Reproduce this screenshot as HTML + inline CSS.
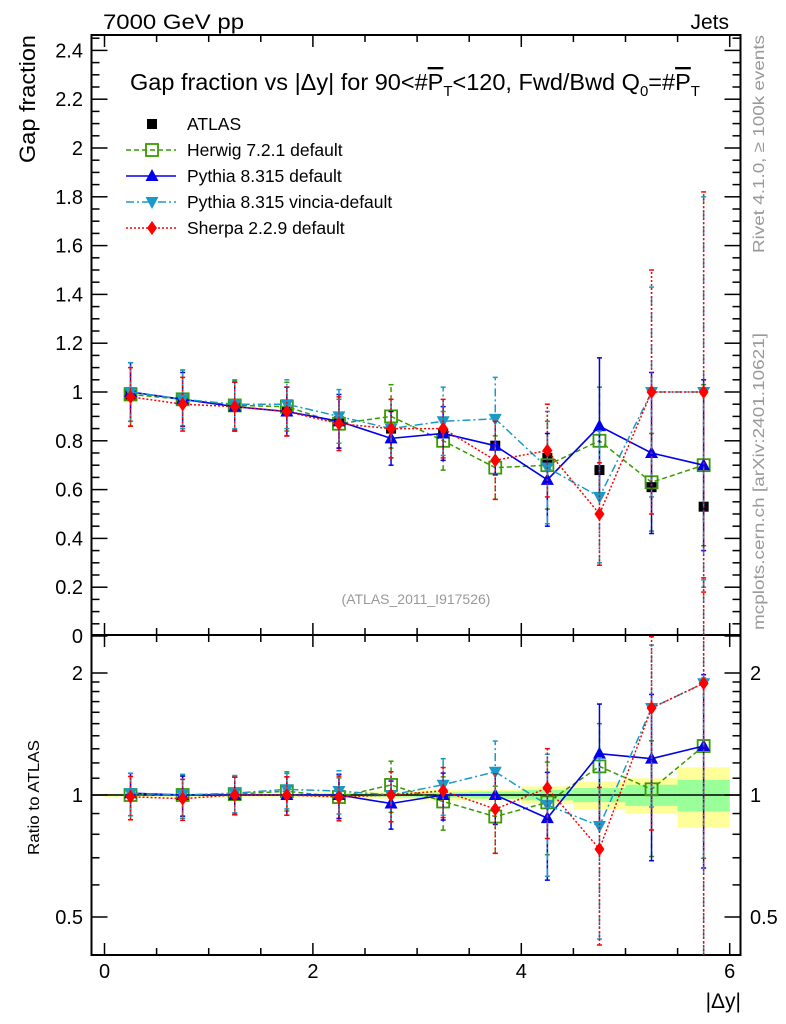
<!DOCTYPE html>
<html><head><meta charset="utf-8"><style>
html,body{margin:0;padding:0;background:#fff;}
svg{display:block;font-family:"Liberation Sans",sans-serif;}
</style></head><body>
<svg id="chart" width="786" height="1024" viewBox="0 0 786 1024"></svg>
<script>
const binCenters=[0.25,0.75,1.25,1.75,2.25,2.75,3.25,3.75,4.25,4.75,5.25,5.75];
const atlasVals=[0.99,0.97,0.94,0.92,0.88,0.85,0.83,0.78,0.73,0.68,0.61,0.53];
const atlasErr=[0.01,0.01,0.01,0.01,0.01,0.015,0.02,0.02,0.03,0.04,0.05,0.07];
const atlasStatRel=[0.005,0.005,0.005,0.005,0.008,0.01,0.015,0.02,0.03,0.04,0.06,0.09];
const atlasTotRel=[0.01,0.01,0.01,0.01,0.015,0.02,0.03,0.03,0.05,0.08,0.1,0.17];
const herwigVals=[0.99,0.97,0.945,0.94,0.87,0.90,0.80,0.69,0.70,0.80,0.63,0.70];
const herwigErr=[0.13,0.12,0.1,0.1,0.1,0.13,0.12,0.13,0.18,0.22,0.2,0.33];
const pythiaVals=[1.0,0.97,0.94,0.92,0.88,0.81,0.83,0.78,0.64,0.86,0.75,0.70];
const pythiaErr=[0.12,0.11,0.1,0.1,0.11,0.11,0.11,0.12,0.19,0.28,0.33,0.35];
const vinciaVals=[1.0,0.97,0.95,0.95,0.90,0.85,0.88,0.89,0.69,0.57,1.0,1.0];
const vinciaErr=[0.12,0.12,0.1,0.1,0.11,0.12,0.14,0.17,0.23,0.27,0.43,0.8];
const sherpaVals=[0.98,0.95,0.94,0.92,0.87,0.85,0.85,0.72,0.76,0.50,1.0,1.0];
const sherpaErr=[0.12,0.11,0.1,0.1,0.11,0.12,0.12,0.16,0.19,0.21,0.5,0.82];
const mainTicks=[0,0.2,0.4,0.6,0.8,1,1.2,1.4,1.6,1.8,2,2.2,2.4];
const ratioTicks=[0.5,1,2];
const xTickLabels=[0,2,4,6];

const NS="http://www.w3.org/2000/svg";
const svg=document.getElementById('chart');
function mk(tag,attrs,parent){const e=document.createElementNS(NS,tag);for(const k in attrs)e.setAttribute(k,attrs[k]);(parent||svg).appendChild(e);return e;}
const L=91.5,R=740.5,T1=35,B1=635,B2=955;
const X=v=>104.5+v*104.2;
const Y=v=>636-v*244;
const YR=r=>795-Math.log2(r)*122;
const YRc=r=>Math.max(T1+0.5,Math.min(B2,YR(r)));
const YC=v=>Math.max(T1,Math.min(B1,Y(v)));

for(let i=0;i<binCenters.length;i++){
  const x0=X(binCenters[i]-0.25),x1=X(binCenters[i]+0.25);
  const b=mk('rect',{x:x0,y:YR(1+atlasTotRel[i]),width:x1-x0,height:YR(1-atlasTotRel[i])-YR(1+atlasTotRel[i]),fill:'#ffff99'});
  
  
  const g=mk('rect',{x:x0,y:YR(1+atlasStatRel[i]),width:x1-x0,height:YR(1-atlasStatRel[i])-YR(1+atlasStatRel[i]),fill:'#99ff99'});
  
  
}
mk('line',{x1:L,x2:R,y1:YR(1),y2:YR(1),stroke:'#000','stroke-width':1.5});

mk('rect',{x:L,y:T1,width:R-L,height:B1-T1,fill:'none',stroke:'#000','stroke-width':2});
mk('rect',{x:L,y:B1,width:R-L,height:B2-B1,fill:'none',stroke:'#000','stroke-width':2});

for(let v=0;v<=6.001;v+=0.5){
  const maj=Math.abs(v-Math.round(v/2)*2)<1e-6;
  const len=maj?12:7;
  [[T1,1],[B1,-1],[B1,1],[B2,-1]].forEach(([y,d])=>mk('line',{x1:X(v),x2:X(v),y1:y,y2:y+d*len,stroke:'#000','stroke-width':1.5}));
}
xTickLabels.forEach(v=>{const t=mk('text',{x:X(v),y:978,'font-size':20,'text-anchor':'middle'});t.textContent=v;

});

for(let v=0;v<=2.46;v+=0.05){
  const maj=Math.abs(v*5-Math.round(v*5))<1e-6;const len=maj?16:8;
  mk('line',{x1:L,x2:L+len,y1:Y(v),y2:Y(v),stroke:'#000','stroke-width':1.5});
  mk('line',{x1:R,x2:R-len,y1:Y(v),y2:Y(v),stroke:'#000','stroke-width':1.5});
}
mainTicks.forEach(v=>{const t=mk('text',{x:83,y:Y(v)+7,'font-size':20,'text-anchor':'end'});t.textContent=String(+v.toFixed(1));

});

const rMinor=[0.5,0.6,0.7,0.8,0.9,1,1.1,1.2,1.3,1.4,1.5,1.6,1.7,1.8,1.9,2];
rMinor.forEach(r=>{const maj=ratioTicks.includes(r);const len=maj?16:8;
  mk('line',{x1:L,x2:L+len,y1:YR(r),y2:YR(r),stroke:'#000','stroke-width':1.5});
  mk('line',{x1:R,x2:R-len,y1:YR(r),y2:YR(r),stroke:'#000','stroke-width':1.5});});
ratioTicks.forEach(r=>{
  const t=mk('text',{x:83,y:YR(r)+7,'font-size':20,'text-anchor':'end'});t.textContent=r;
  
  
  const t2=mk('text',{x:750,y:YR(r)+7,'font-size':20,'text-anchor':'start'});t2.textContent=r;
  
  
});

function marker(kind,x,y,color,parent){
  if(kind==='sq') return mk('rect',{x:x-5,y:y-5,width:10,height:10,fill:'#000'},parent);
  if(kind==='osq') return mk('rect',{x:x-6,y:y-6,width:12,height:12,fill:'none',stroke:color,'stroke-width':1.8},parent);
  if(kind==='up') return mk('polygon',{points:`${x},${y-7} ${x-6.5},${y+5} ${x+6.5},${y+5}`,fill:color},parent);
  if(kind==='dn') return mk('polygon',{points:`${x},${y+7} ${x-6.5},${y-5} ${x+6.5},${y-5}`,fill:color},parent);
  if(kind==='dia') return mk('polygon',{points:`${x},${y-7} ${x-5},${y} ${x},${y+7} ${x+5},${y}`,fill:color},parent);
}
const series=[
 {name:'herwig',vals:herwigVals,err:herwigErr,color:'#3a9a00',dash:'5,3',kind:'osq',w:1.5},
 {name:'pythia',vals:pythiaVals,err:pythiaErr,color:'#0000ee',dash:'',kind:'up',w:1.6},
 {name:'vincia',vals:vinciaVals,err:vinciaErr,color:'#1a9ac8',dash:'8,3,2,3',kind:'dn',w:1.5},
 {name:'sherpa',vals:sherpaVals,err:sherpaErr,color:'#ff0000',dash:'2,2',kind:'dia',w:1.5}
];
function drawSeries(s,ratio){
  const g=mk('g',{});
  
  
  const yf=ratio?YRc:YC;
  const v=s.vals.map((d,i)=>ratio?d/atlasVals[i]:d);
  const e=s.err.map((d,i)=>ratio?d/atlasVals[i]:d);
  const pts=binCenters.map((c,i)=>`${X(c)},${yf(v[i])}`).join(' ');
  mk('polyline',{points:pts,fill:'none',stroke:s.color,'stroke-width':s.w,'stroke-dasharray':s.dash},g);
  binCenters.forEach((c,i)=>{
    const lo=Math.max(v[i]-e[i],0.01),hi=v[i]+e[i];
    mk('line',{x1:X(c),x2:X(c),y1:yf(lo),y2:yf(hi),stroke:s.color,'stroke-width':1.5,'stroke-dasharray':s.dash},g);
    [lo,hi].forEach(q=>{if(yf(q)>T1+1&&yf(q)<(ratio?B2:B1)-1)mk('line',{x1:X(c)-2.5,x2:X(c)+2.5,y1:yf(q),y2:yf(q),stroke:s.color,'stroke-width':1.5},g);});
    const m=marker(s.kind,X(c),yf(v[i]),s.color,g);
    
    
  });
}
function drawAtlas(){
  const g=mk('g',{});
  
  
  binCenters.forEach((c,i)=>{
    mk('line',{x1:X(c),x2:X(c),y1:Y(atlasVals[i]-atlasErr[i]),y2:Y(atlasVals[i]+atlasErr[i]),stroke:'#000','stroke-width':1.5},g);
    const m=marker('sq',X(c),Y(atlasVals[i]),'#000',g);
    
    
  });
}
drawAtlas();
series.forEach(s=>drawSeries(s,false));
series.forEach(s=>drawSeries(s,true));

function txt(s,attrs,name){const t=mk('text',attrs);t.textContent=s;return t;}
txt('7000 GeV pp',{x:103,y:29,'font-size':21,textLength:141,lengthAdjust:'spacingAndGlyphs'},'energy-label');
txt('Jets',{x:729,y:29,'font-size':21,'text-anchor':'end'},'process-label');
txt('Gap fraction',{x:0,y:0,'font-size':22,'text-anchor':'end',transform:'translate(35,35) rotate(-90)',textLength:128,lengthAdjust:'spacingAndGlyphs'},'y-axis-title');
txt('Ratio to ATLAS',{x:0,y:0,'font-size':16,'text-anchor':'end',transform:'translate(39,740) rotate(-90)',textLength:115,lengthAdjust:'spacingAndGlyphs'},'ratio-axis-title');
txt('|Δy|',{x:741,y:1008,'font-size':21,'text-anchor':'end'},'x-axis-title');
txt('(ATLAS_2011_I917526)',{x:416,y:604,'font-size':14,'text-anchor':'middle',fill:'#999'},'analysis-id');
txt('Rivet 4.1.0, ≥ 100k events',{x:0,y:0,'font-size':16,'text-anchor':'end',fill:'#999',transform:'translate(764,35) rotate(-90)',textLength:218,lengthAdjust:'spacingAndGlyphs'},'rivet-version-label');
txt('mcplots.cern.ch [arXiv:2401.10621]',{x:0,y:0,'font-size':16,'text-anchor':'end',fill:'#999',transform:'translate(764,333) rotate(-90)',textLength:297,lengthAdjust:'spacingAndGlyphs'},'mcplots-label');

const title=mk('text',{x:130,y:90,'font-size':23.5});


title.innerHTML='Gap fraction vs |Δy| for 90&lt;#<tspan text-decoration="overline">P</tspan><tspan font-size="15" dy="6">T</tspan><tspan dy="-6">&lt;120, Fwd/Bwd Q</tspan><tspan font-size="15" dy="6">0</tspan><tspan dy="-6">=#</tspan><tspan text-decoration="overline">P</tspan><tspan font-size="15" dy="6">T</tspan>';

const legend=[['ATLAS',null],['Herwig 7.2.1 default',series[0]],['Pythia 8.315 default',series[1]],['Pythia 8.315 vincia-default',series[2]],['Sherpa 2.2.9 default',series[3]]];
legend.forEach(([label,s],i)=>{
  const y=124+i*26;
  const g=mk('g',{});
  
  
  if(s){mk('line',{x1:126,x2:176,y1:y,y2:y,stroke:s.color,'stroke-width':1.5,'stroke-dasharray':s.dash},g);marker(s.kind,152,y,s.color,g);}
  else marker('sq',152,y,'#000',g);
  const t=mk('text',{x:187,y:y+6,'font-size':17.5},g);t.textContent=label;
});
</script>
</body></html>
